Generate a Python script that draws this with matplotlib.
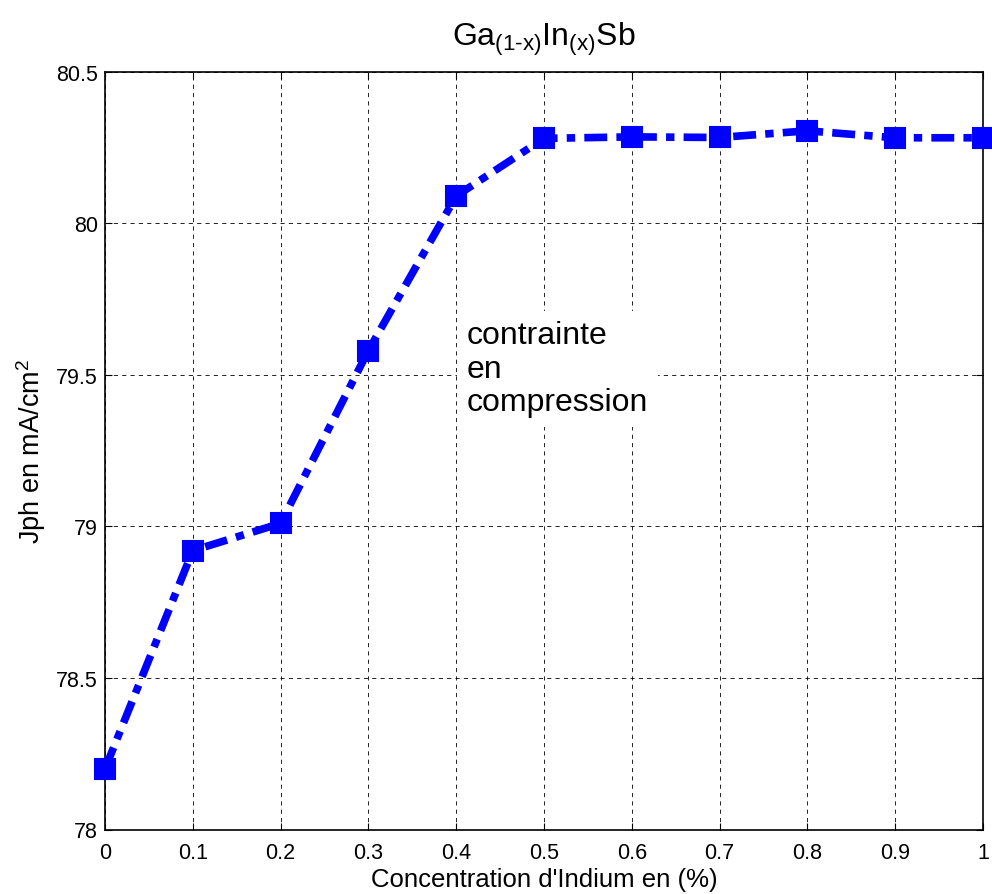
import matplotlib
matplotlib.use("Agg")
import matplotlib.pyplot as plt

plt.rcParams['font.family'] = ['Liberation Sans', 'DejaVu Sans']
plt.rcParams['mathtext.fontset'] = 'custom'
plt.rcParams['mathtext.rm'] = 'Liberation Sans'
plt.rcParams['mathtext.it'] = 'Liberation Sans'

# Indium fraction and photocurrent density
concentration = [0.0, 0.1, 0.2, 0.3, 0.4, 0.5, 0.6, 0.7, 0.8, 0.9, 1.0]
jph = [78.20, 78.92, 79.01, 79.58, 80.09, 80.28, 80.285, 80.283, 80.305, 80.282, 80.282]

xticks = [0, 0.1, 0.2, 0.3, 0.4, 0.5, 0.6, 0.7, 0.8, 0.9, 1]
xtick_labels = ['0', '0.1', '0.2', '0.3', '0.4', '0.5', '0.6', '0.7', '0.8', '0.9', '1']
yticks = [78, 78.5, 79, 79.5, 80, 80.5]
ytick_labels = ['78', '78.5', '79', '79.5', '80', '80.5']

fig = plt.figure(figsize=(9.92, 8.95), dpi=100)
ax = fig.add_axes([105 / 992, 1 - 830.5 / 895, (983 - 105) / 992, (830.5 - 72.7) / 895])

ax.plot(concentration, jph, color='blue', linewidth=5.5,
        linestyle=(0, (3.0, 1.2, 1.1, 1.2)), dash_capstyle='butt',
        marker='s', markersize=14, markerfacecolor='blue',
        markeredgecolor='blue', markeredgewidth=1.5, zorder=3, clip_on=False)

ax.set_xlim(0, 1)
ax.set_ylim(78, 80.5)
ax.set_xticks(xticks)
ax.set_xticklabels(xtick_labels)
ax.set_yticks(yticks)
ax.set_yticklabels(ytick_labels)
ax.tick_params(direction='in', length=5, width=0.8, labelsize=15.5,
               top=True, right=True)
ax.tick_params(axis='x', pad=9)
ax.tick_params(axis='y', pad=5)
ax.grid(True, color='black', linestyle=(0, (5, 5)), linewidth=0.6)
ax.set_axisbelow(True)
for sp in ax.spines.values():
    sp.set_linewidth(1.2)

ax.set_title(r'$\mathregular{Ga_{(1\text{-}x)}In_{(x)}Sb}$', fontsize=23, pad=19)
ax.set_xlabel("Concentration d'Indium en (%)", fontsize=18.5, labelpad=3)
ax.set_ylabel(r'Jph en mA/cm$^2$', fontsize=19.5, labelpad=6)

ax.text(0.412, 79.52, 'contrainte\nen\ncompression', fontsize=23,
        ha='left', va='center', linespacing=1.15, zorder=2,
        bbox=dict(facecolor='white', edgecolor='none', pad=7))

fig.savefig('out.png', dpi=100)
